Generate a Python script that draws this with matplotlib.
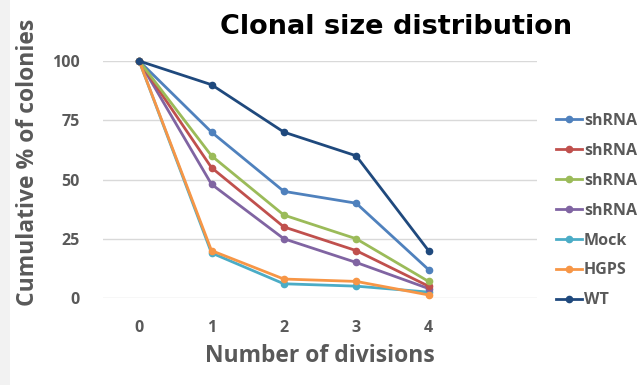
import matplotlib
matplotlib.use("Agg")
import matplotlib.pyplot as plt
from matplotlib.patches import Rectangle

divisions = [0, 1, 2, 3, 4]
series_labels = ["shRNA", "shRNA", "shRNA", "shRNA", "Mock", "HGPS", "WT"]
shrna_a = [100, 70, 45, 40, 12]
shrna_b = [100, 55, 30, 20, 5]
shrna_c = [100, 60, 35, 25, 7]
shrna_d = [100, 48, 25, 15, 4]
mock = [100, 19, 6, 5, 2.5]
hgps = [100, 20, 8, 7, 1.3]
wt = [100, 90, 70, 60, 20]
y_ticks = [0, 25, 50, 75, 100]

series = [shrna_a, shrna_b, shrna_c, shrna_d, mock, hgps, wt]
colors = ["#4F81BD", "#C0504D", "#9BBB59", "#8064A2", "#4BACC6", "#F79646", "#1F497D"]

fig = plt.figure(figsize=(6.39, 3.85), dpi=100)
fig.patch.set_facecolor("white")
fig.patches.append(Rectangle((0, 0), 10 / 639, 1, transform=fig.transFigure,
                             facecolor="#f2f2f2", edgecolor="none", zorder=0))

ax = fig.add_axes([103 / 639, (385 - 298) / 385, 434 / 639, 237 / 385])
ax.set_xlim(-0.5, 5.5)
ax.set_ylim(0, 100)

# draw back-to-front so the legend order matches the series order
zorders = [6, 5, 7, 4, 3, 8, 9]
handles = []
for vals, lab, col, z in zip(series, series_labels, colors, zorders):
    h, = ax.plot(divisions, vals, color=col, lw=2, marker="o", ms=4.5,
                 label=lab, clip_on=False, zorder=z)
    handles.append(h)

ax.set_yticks(y_ticks)
ax.set_xticks(divisions)
ax.grid(axis="y", color="#d9d9d9", lw=1)
ax.set_axisbelow(True)
for s in ax.spines.values():
    s.set_visible(False)
ax.tick_params(length=0, colors="#595959", labelsize=11.5, pad=17)
ax.tick_params(axis="x", pad=16)
for t in ax.get_xticklabels() + ax.get_yticklabels():
    t.set_fontfamily("Open Sans")
    t.set_fontweight("bold")

fig.text(396 / 639, 1 - 27 / 385, "Clonal size distribution", ha="center", va="center",
         fontsize=19.5, fontweight="bold", family="DejaVu Sans", color="black")
fig.text(28 / 639, 1 - 162 / 385, "Cumulative % of colonies", rotation=90,
         ha="center", va="center", fontsize=16.5, fontweight="bold",
         family="Open Sans", color="#595959")
fig.text(320 / 639, 1 - 356 / 385, "Number of divisions", ha="center", va="center",
         fontsize=16.5, fontweight="bold", family="Open Sans", color="#595959")

leg = fig.legend(handles=handles, labels=series_labels, loc="upper left",
                 bbox_to_anchor=(556 / 639, 1 - 113 / 385), frameon=False,
                 borderaxespad=0, borderpad=0,
                 handlelength=1.6, handletextpad=0.15, labelspacing=0.87,
                 prop={"family": "Open Sans", "weight": "bold", "size": 11.5})
for t in leg.get_texts():
    t.set_color("#595959")

fig.savefig("out.png", dpi=100)
